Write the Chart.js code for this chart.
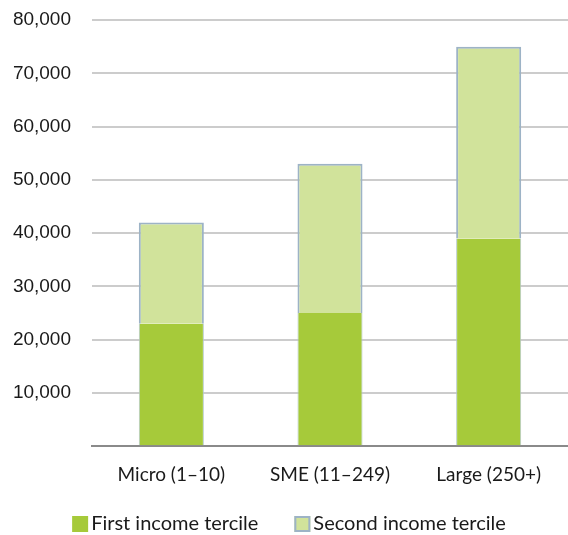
<!DOCTYPE html>
<html>
<head>
<meta charset="utf-8">
<script src="https://cdn.jsdelivr.net/npm/chart.js@4.4.0/dist/chart.umd.min.js"></script>
<style>
  html, body { margin: 0; padding: 0; background: #fff; }
  #wrap { width: 568px; height: 535px; }
</style>
</head>
<body>
<div id="wrap"><canvas id="chart"></canvas></div>
<script>
// data
const categories = ['Micro (1–10)', 'SME (11–249)', 'Large (250+)'];
const firstTercile = [23000, 25000, 39000];
const secondTercile = [19000, 28000, 36000];
const seriesNames = ['First income tercile', 'Second income tercile'];

const darkGreen = '#a6ca3a';
const lightGreen = '#d1e39b';
const edge = '#9db3c6';

// legend drawn under the axis, box close to the text like the original
const bottomLegend = {
    id: 'bottomLegend',
    afterDraw(chart) {
        const ctx = chart.ctx;
        const ds = chart.data.datasets;
        ctx.save();
        ctx.font = '20px Lato';
        ctx.textBaseline = 'middle';
        const box = 16, gap = 3, space = 36;
        let total = 0;
        ds.forEach((d, i) => {
            total += box + gap + ctx.measureText(d.label).width;
            if (i < ds.length - 1) total += space;
        });
        let x = (chart.width - total) / 2 + 5;
        const y = 524;
        ds.forEach((d, i) => {
            ctx.fillStyle = d.backgroundColor;
            ctx.fillRect(x, y - box / 2, box, box);
            if (i > 0) {
                ctx.strokeStyle = edge;
                ctx.lineWidth = 2;
                ctx.strokeRect(x + 1, y - box / 2 + 1, box - 2, box - 2);
            }
            x += box + gap;
            ctx.fillStyle = '#1a1a1a';
            ctx.fillText(d.label, x, y);
            x += ctx.measureText(d.label).width + space;
        });
        ctx.restore();
    }
};

new Chart(document.getElementById('chart').getContext('2d'), {
    type: 'bar',
    data: {
        labels: categories,
        datasets: [{
            label: seriesNames[0],
            data: firstTercile,
            backgroundColor: darkGreen,
            borderColor: '#b4c9c9',
            borderWidth: { left: 1, right: 1, top: 0, bottom: 0 },
            borderSkipped: false
        }, {
            label: seriesNames[1],
            data: secondTercile,
            backgroundColor: lightGreen,
            borderColor: edge,
            borderWidth: { left: 2, right: 2, top: 2, bottom: 0 },
            borderSkipped: false
        }]
    },
    options: {
        responsive: true,
        maintainAspectRatio: false,
        animation: false,
        layout: { padding: { top: 0, right: 0, left: 0, bottom: 32 } },
        datasets: { bar: { categoryPercentage: 1, barPercentage: 0.41 } },
        scales: {
            x: {
                stacked: true,
                grid: { display: false, drawTicks: false },
                border: { color: '#8a8a8a', width: 2 },
                ticks: {
                    color: '#1a1a1a',
                    padding: 17,
                    font: { family: 'Lato', size: 19 }
                }
            },
            y: {
                stacked: true,
                min: 0,
                max: 80000,
                border: { display: false },
                grid: { color: '#cccccc', lineWidth: 2, drawTicks: false },
                afterFit: scale => {
                    scale.width = 92;
                    scale.paddingTop = 20;
                    scale.paddingBottom = 0;
                },
                ticks: {
                    stepSize: 10000,
                    padding: 21,
                    color: '#1a1a1a',
                    font: { family: 'Liberation Sans', size: 19 },
                    callback: v => v === 0 ? '' : v.toLocaleString('en-US')
                }
            }
        },
        plugins: {
            legend: { display: false },
            tooltip: { enabled: false }
        }
    },
    plugins: [bottomLegend]
});
</script>
</body>
</html>
